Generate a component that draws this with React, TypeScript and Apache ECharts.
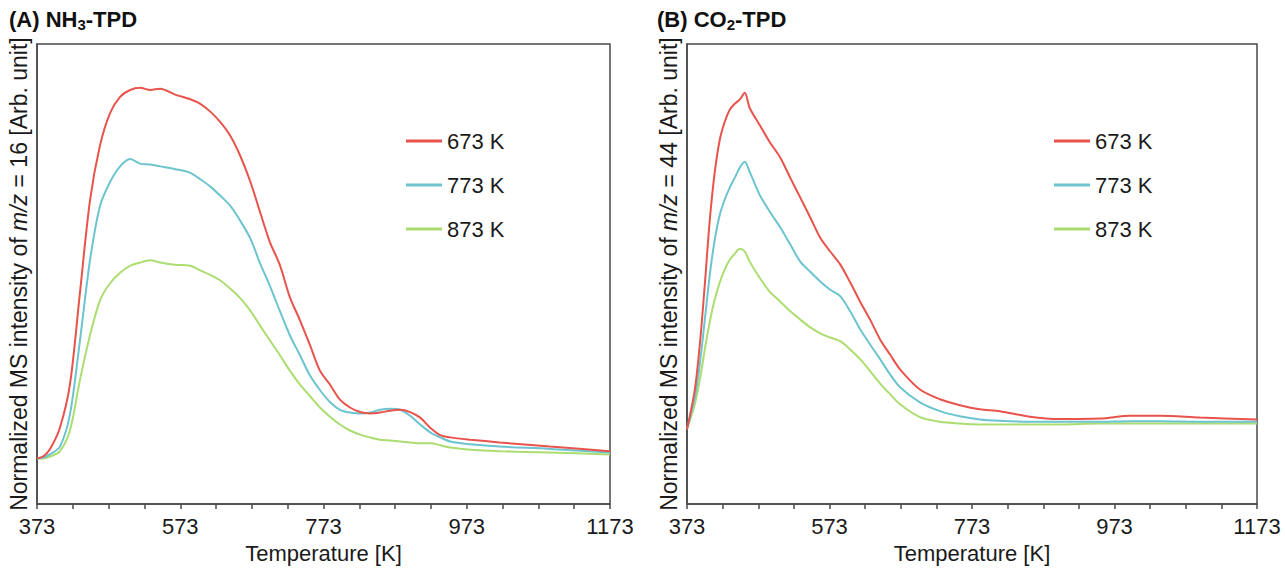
import React, { useEffect, useRef } from "react";
import * as echarts from "echarts";

const FONT = "'Liberation Sans', Arial, Helvetica, sans-serif";
const X0 = 373;

const legendNames = ["673 K", "773 K", "873 K"];
const colors = ["#e8534b", "#6cc4cf", "#abdd70"];

// Panel A: NH3-TPD
const tempA = [373, 382, 391, 405, 419, 433, 447, 461, 475, 489, 503, 517, 531, 545, 566, 587, 601, 615, 629, 643, 657, 671, 684, 698, 712, 726, 740, 754, 768, 782, 796, 810, 824, 838, 852, 866, 880, 894, 908, 922, 936, 950, 978, 1019, 1089, 1173];
const nh3_673 = [9.9, 10.4, 11.9, 16.6, 26, 46, 66, 78, 85, 88.5, 90, 90.5, 90, 90.3, 89, 88, 87, 85.3, 83, 80, 75.6, 70, 63.7, 57, 52, 45, 40, 34.6, 29, 26, 22.7, 21, 20, 19.7, 19.9, 20.3, 20.5, 20, 18.8, 16.6, 15, 14.5, 14, 13.4, 12.5, 11.5];
const nh3_773 = [9.9, 10.1, 10.8, 12.5, 19.5, 35.6, 53, 64.8, 70, 73.4, 75, 74, 73.8, 73.4, 72.8, 72, 70.6, 69, 67, 64.8, 61.5, 57.7, 52.5, 47.5, 42, 36.7, 32.4, 28, 24.8, 22.2, 20.5, 19.9, 19.7, 19.9, 20.5, 20.7, 20.5, 19.2, 17.3, 15.6, 14.5, 13.6, 13, 12.5, 12, 11.2];
const nh3_873 = [9.9, 9.9, 10.3, 11.5, 16, 27, 36.7, 44.3, 48, 50.3, 51.8, 52.5, 53, 52.5, 52, 51.8, 50.8, 49.8, 48.6, 46.8, 44.7, 42, 38.9, 35.6, 32.4, 29, 26, 23.5, 21, 19, 17.3, 16, 15.1, 14.5, 14, 13.8, 13.6, 13.4, 13.2, 13.2, 12.8, 12.3, 11.8, 11.5, 11.2, 10.8];

// Panel B: CO2-TPD
const tempB = [373, 384, 391, 398, 405, 412, 419, 426, 433, 440, 447, 454, 461, 475, 489, 504, 518, 532, 546, 560, 574, 588, 602, 616, 630, 644, 658, 672, 700, 728, 756, 784, 812, 854, 896, 953, 995, 1037, 1093, 1173];
const co2_673 = [16.3, 24.9, 34.7, 47.7, 61.8, 72.2, 79.2, 83.1, 85.7, 87, 87.9, 89.4, 86.1, 82.4, 78.7, 75.3, 70.9, 66.6, 62.3, 57.9, 54.9, 52.1, 48.2, 44, 40.1, 35.8, 32.5, 29.3, 24.9, 22.8, 21.5, 20.6, 20.2, 19, 18.5, 18.6, 19.2, 19.2, 18.8, 18.4];
const co2_773 = [16.3, 23.2, 30.4, 40.1, 49.9, 57.5, 62.9, 66.2, 68.8, 70.9, 73.1, 74.4, 72.2, 67.2, 63.6, 60.1, 56.4, 52.7, 50.5, 48.4, 46.6, 45.2, 41.9, 38, 34.7, 31.5, 28.2, 25.4, 22.1, 20.2, 19.1, 18.4, 18.1, 17.9, 17.9, 17.9, 18, 18, 17.9, 17.9];
const co2_873 = [16.3, 21.7, 27, 33.6, 39.7, 44.5, 48.2, 51, 53.1, 54.4, 55.5, 54.9, 52.7, 49.2, 46.2, 44, 41.9, 40.1, 38.4, 37.1, 36.2, 35.4, 33.6, 31.5, 28.9, 26.2, 23.9, 21.7, 18.9, 17.9, 17.5, 17.3, 17.3, 17.3, 17.3, 17.5, 17.5, 17.5, 17.5, 17.5];

const seriesA = [nh3_673, nh3_773, nh3_873];
const seriesB = [co2_673, co2_773, co2_873];

const AXIS_COLOR = "#4a4a4a";
const TEXT_COLOR = "#1a1a1a";

function makeSeries(temps: number[], sets: number[][], idx: number) {
  return sets.map((vals, k) => ({
    name: legendNames[k],
    type: "line",
    xAxisIndex: idx,
    yAxisIndex: idx,
    showSymbol: false,
    smooth: 0.3,
    z: 10 - k,
    lineStyle: { color: colors[k], width: 2 },
    itemStyle: { color: colors[k] },
    data: temps.map((t, i) => [t - X0, vals[i]]),
  }));
}

function xAxisOf(idx: number) {
  return {
    gridIndex: idx,
    type: "value",
    min: 0,
    max: 800,
    interval: 50,
    name: "Temperature [K]",
    nameLocation: "middle",
    nameGap: 36,
    nameTextStyle: { fontSize: 22, color: TEXT_COLOR, fontFamily: FONT },
    axisLine: { show: true, lineStyle: { color: AXIS_COLOR, width: 1.5 } },
    axisTick: { show: true, inside: false, length: 5, lineStyle: { color: AXIS_COLOR, width: 1.5 } },
    axisLabel: {
      fontSize: 22,
      color: TEXT_COLOR,
      fontFamily: FONT,
      margin: 11,
      showMinLabel: true,
      showMaxLabel: true,
      formatter: (v: number) => (Math.round(v) % 200 === 0 ? String(Math.round(v) + X0) : ""),
    },
    splitLine: { show: false },
  };
}

function yAxisOf(idx: number, mz: string) {
  return {
    gridIndex: idx,
    type: "value",
    min: 0,
    max: 100,
    name: `{n|Normalized MS intensity of }{i|m/z}{n| = ${mz} [Arb. unit]}`,
    nameLocation: "middle",
    nameRotate: 90,
    nameGap: 7,
    nameTextStyle: {
      fontSize: 23,
      color: TEXT_COLOR,
      fontFamily: FONT,
      rich: {
        n: { fontSize: 23, color: TEXT_COLOR, fontFamily: FONT },
        i: { fontSize: 23, color: TEXT_COLOR, fontFamily: FONT, fontStyle: "italic" },
      },
    },
    axisLine: { show: true, lineStyle: { color: AXIS_COLOR, width: 1.5 } },
    axisTick: { show: false },
    axisLabel: { show: false },
    splitLine: { show: false },
  };
}

function titleOf(left: number, pre: string, sub: string) {
  const rich = {
    a: { fontSize: 22, fontWeight: "bold", color: "#111", fontFamily: FONT, lineHeight: 26 },
    s: { fontSize: 15, fontWeight: "bold", color: "#111", fontFamily: FONT, verticalAlign: "bottom", lineHeight: 26, padding: [8, 0, 0, 0] },
  };
  return {
    text: `{a|${pre}}{s|${sub}}{a|-TPD}`,
    left,
    top: 6,
    padding: 0,
    textStyle: { rich },
  };
}

function legendOf(left: number) {
  return {
    left,
    top: 125,
    orient: "vertical",
    icon: "rect",
    itemWidth: 36,
    itemHeight: 3,
    itemGap: 22,
    selectedMode: false,
    data: legendNames,
    textStyle: { fontSize: 22, color: TEXT_COLOR, fontFamily: FONT },
  };
}

export default function App() {
  const ref = useRef<HTMLDivElement>(null);
  useEffect(() => {
    if (!ref.current) return;
    const chart = echarts.init(ref.current, undefined, { renderer: "svg" });
    chart.setOption({
      animation: false,
      backgroundColor: "#ffffff",
      textStyle: { fontFamily: FONT },
      title: [titleOf(9, "(A) NH", "3"), titleOf(657, "(B) CO", "2")],
      legend: [legendOf(401), legendOf(1049)],
      grid: [
        { left: 37, top: 44, width: 573, height: 461, show: true, borderColor: AXIS_COLOR, borderWidth: 1.5, backgroundColor: "transparent" },
        { left: 687, top: 44, width: 570, height: 461, show: true, borderColor: AXIS_COLOR, borderWidth: 1.5, backgroundColor: "transparent" },
      ],
      xAxis: [xAxisOf(0), xAxisOf(1)],
      yAxis: [yAxisOf(0, "16"), yAxisOf(1, "44")],
      series: [...makeSeries(tempA, seriesA, 0), ...makeSeries(tempB, seriesB, 1)],
    });
    return () => chart.dispose();
  }, []);
  return (
    <div
      ref={ref}
      style={{ position: "absolute", left: 0, top: 0, width: 1285, height: 569 }}
    />
  );
}
